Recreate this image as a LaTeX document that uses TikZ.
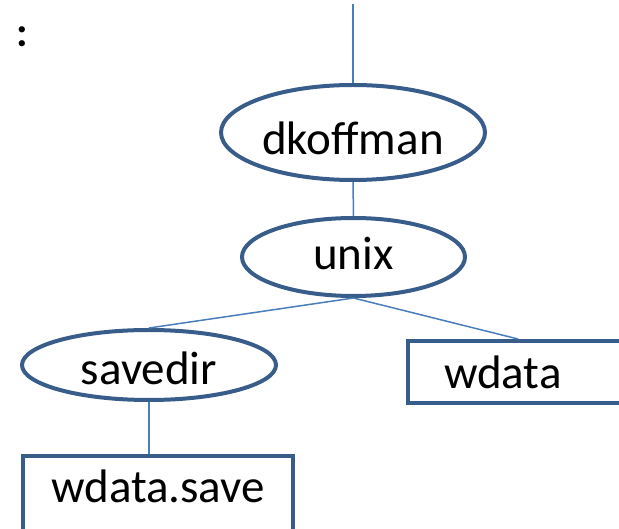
\documentclass[tikz,border=0pt]{standalone}
\usepackage{fontspec}
\setmainfont{Carlito}
\usetikzlibrary{shapes.geometric}
\definecolor{bordc}{HTML}{385D8A}
\definecolor{linec}{HTML}{4A7EBB}
\begin{document}
\begin{tikzpicture}[x=1pt,y=1pt,
  ov/.style={ellipse,draw=bordc,line width=4pt,inner sep=0pt,font=\fontsize{47}{56}\selectfont,text depth=0pt},
  bx/.style={rectangle,draw=bordc,line width=4pt,font=\fontsize{47}{56}\selectfont},
  conn/.style={draw=linec,line width=1.5pt}]
\useasboundingbox (0,0) rectangle (619,-529);
\clip (0,0) rectangle (619,-529);
\node[font=\fontsize{42}{50}\selectfont\bfseries,anchor=base,inner sep=0pt] (colon) at (22,-46.5) {:};
\coordinate (topend) at (353,-4);
\node[ov,minimum width=264pt,minimum height=95pt,text height=45pt] (dk) at (353,-132.5) {dkoffman};
\node[ov,minimum width=223pt,minimum height=78pt,text height=26pt] (unix) at (353.5,-257) {unix};
\node[ov,minimum width=254pt,minimum height=70pt,text height=40pt] (save) at (149,-365) {savedir};
\node[bx,anchor=north west,text width=240pt,align=left,inner xsep=36pt,inner ysep=13pt,text height=35pt,text depth=1pt] (wdata) at (406,-339) {wdata};
\node[bx,anchor=north,minimum width=270pt,inner ysep=11pt,text height=35pt,text depth=60pt] (wsave) at (158,-454) {wdata.save};
\draw[conn] (topend) -- (dk.north);
\draw[conn] (dk.south) -- (unix.north);
\draw[conn] (unix.south) -- (save.north);
\draw[conn] (unix.south) -- ([xshift=112pt]wdata.north west);
\draw[conn] (save.south) -- (save.south |- wsave.north);
\end{tikzpicture}
\end{document}
